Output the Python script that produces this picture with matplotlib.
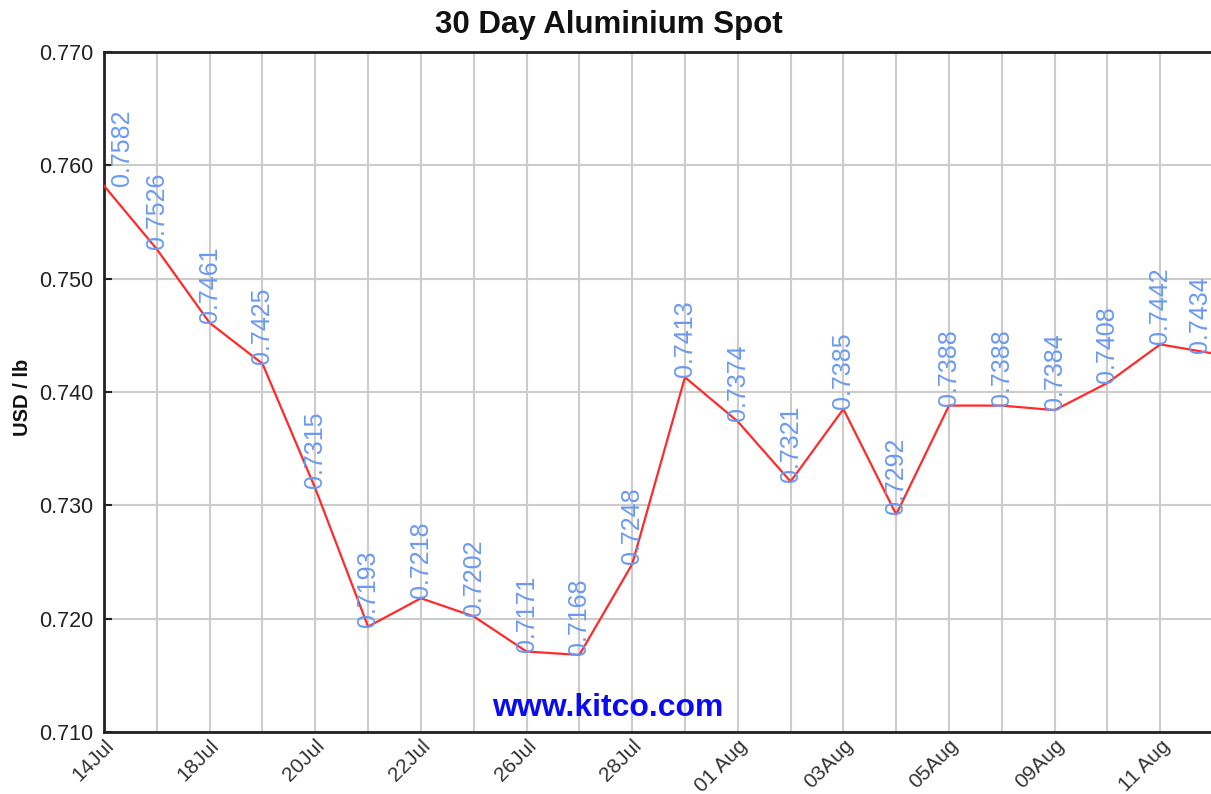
import matplotlib
matplotlib.use("Agg")
import matplotlib.pyplot as plt

# 30 day aluminium spot, USD / lb
prices = [0.7582, 0.7526, 0.7461, 0.7425, 0.7315, 0.7193, 0.7218, 0.7202,
          0.7171, 0.7168, 0.7248, 0.7413, 0.7374, 0.7321, 0.7385, 0.7292,
          0.7388, 0.7388, 0.7384, 0.7408, 0.7442, 0.7434]
tick_labels = ["14Jul", "18Jul", "20Jul", "22Jul", "26Jul", "28Jul",
               "01 Aug", "03Aug", "05Aug", "09Aug", "11 Aug"]
y_ticks = [0.710, 0.720, 0.730, 0.740, 0.750, 0.760, 0.770]

plt.rcParams['font.family'] = ['Liberation Sans', 'DejaVu Sans']

fig = plt.figure(figsize=(12.11, 7.94), dpi=100)
ax = fig.add_axes([0.0859, 0.0781, 0.9158, 0.8564])

x = list(range(len(prices)))
ax.plot(x, prices, color="#ff2a2a", lw=1.6, zorder=3)

last = len(prices) - 1
for i, v in enumerate(prices):
    if i == 0:
        ha, dx = "left", 4
    elif i == last:
        ha, dx = "right", -1
    else:
        ha, dx = "center", 0
    ax.annotate(f"{v:.4f}", (i, v), xytext=(dx, 0), textcoords="offset points",
                rotation=90, ha=ha, va="bottom", fontsize=18,
                color="#6a9af0", zorder=4)

ax.set_xlim(0, len(prices) - 1)
ax.set_ylim(0.710, 0.770)
ax.set_yticks(y_ticks)
ax.set_yticklabels([f"{t:.3f}" for t in y_ticks])
ax.set_xticks(x, minor=True)
ax.set_xticks(x[::2])
ax.set_xticklabels(tick_labels, rotation=45, ha="right", va="top",
                   rotation_mode="anchor", fontsize=15, color="#333333")

ax.grid(True, which="both", axis="x", color="#cccccc", lw=1.5)
ax.grid(True, axis="y", color="#cccccc", lw=1.5)
ax.set_axisbelow(True)
ax.tick_params(axis="y", direction="in", length=6, width=1.5, labelsize=15.5,
               pad=8, colors="#222222")
ax.tick_params(axis="x", which="both", length=0, pad=3)
for side in ["left", "bottom", "top", "right"]:
    ax.spines[side].set_linewidth(2)
    ax.spines[side].set_color("#222222")

fig.text(23 / 1211, 0.5, "USD / lb", rotation=90, ha="center", va="center",
         fontsize=14.5, fontweight="bold", color="#111111")
fig.text(0.503, 0.968, "30 Day Aluminium Spot", ha="center", va="center",
         fontsize=22.5, fontweight="bold", color="#111111")
fig.text(0.502, 0.108, "www.kitco.com", ha="center", va="center",
         fontsize=23, fontweight="bold", color="#0a0af5")

fig.savefig("out.png", dpi=100)
